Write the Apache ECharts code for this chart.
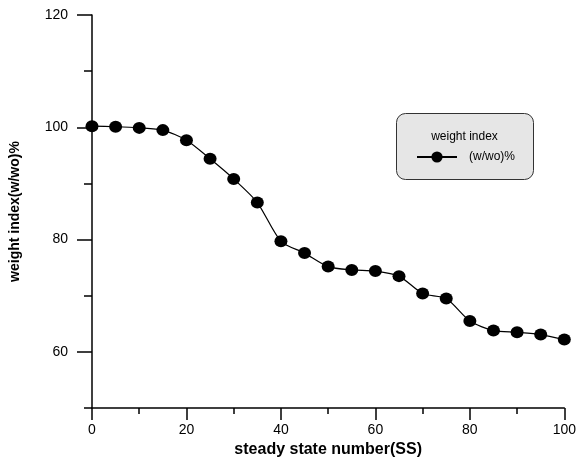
<!DOCTYPE html>
<html>
<head>
<meta charset="utf-8">
<script src="https://cdn.jsdelivr.net/npm/echarts@6/dist/echarts.min.js"></script>
<style>
html,body{margin:0;padding:0;background:#fff;}
#chart{width:579px;height:463px;}
</style>
</head>
<body>
<div id="chart"></div>
<script>
// Data
const ssNumbers = [0, 5, 10, 15, 20, 25, 30, 35, 40, 45, 50, 55, 60, 65, 70, 75, 80, 85, 90, 95, 100];
const weightIndex = [100.2, 100.1, 99.9, 99.5, 97.7, 94.4, 90.8, 86.6, 79.7, 77.6, 75.2, 74.6, 74.4, 73.5, 70.4, 69.5, 65.5, 63.8, 63.5, 63.1, 62.2];
const yMajorTicks = [60, 80, 100, 120];
const yMinorTicks = [50, 70, 90, 110];
const seriesName = '(w/wo)%';
const legendTitle = 'weight index';
const xTitle = 'steady state number(SS)';
const yTitle = 'weight index(w/wo)%';

const chart = echarts.init(document.getElementById('chart'), null, {renderer: 'canvas'});
const font = 'Liberation Sans, Arial, sans-serif';
const axisLineStyle = {color: '#000', width: 1.5};

chart.setOption({
  animation: false,
  backgroundColor: '#fff',
  grid: {left: 92, right: 12, top: 15, bottom: 53, containLabel: false},
  xAxis: {
    type: 'value', min: 0, max: 100, interval: 20,
    name: xTitle, nameLocation: 'middle', nameGap: 29,
    nameTextStyle: {fontFamily: font, fontWeight: 'bold', fontSize: 16, color: '#000'},
    axisLine: {show: true, onZero: false, lineStyle: axisLineStyle},
    axisTick: {show: true, inside: false, length: 12, lineStyle: axisLineStyle},
    minorTick: {show: true, splitNumber: 2, length: 6, lineStyle: axisLineStyle},
    axisLabel: {fontFamily: font, fontSize: 14, color: '#000', margin: 15},
    splitLine: {show: false}, minorSplitLine: {show: false}
  },
  yAxis: [{
    type: 'value', min: 50, max: 120,
    name: yTitle, nameLocation: 'middle', nameGap: 70,
    nameTextStyle: {fontFamily: font, fontWeight: 'bold', fontSize: 14, color: '#000'},
    axisLine: {show: true, onZero: false, lineStyle: axisLineStyle},
    axisTick: {show: true, inside: false, length: 15, customValues: yMajorTicks, lineStyle: axisLineStyle},
    axisLabel: {fontFamily: font, fontSize: 14, color: '#000', margin: 24, customValues: yMajorTicks},
    splitLine: {show: false}
  }, {
    type: 'value', min: 50, max: 120, position: 'left',
    axisLine: {show: false},
    axisTick: {show: true, inside: false, length: 8, customValues: yMinorTicks, lineStyle: axisLineStyle},
    axisLabel: {show: false},
    splitLine: {show: false}
  }],
  graphic: [{
    type: 'group', left: 396, top: 113, z: 1,
    children: [{
      type: 'rect', shape: {x: 0, y: 0, width: 137, height: 66, r: 9},
      style: {fill: '#e6e6e6', stroke: '#333', lineWidth: 1}
    }, {
      type: 'text', style: {x: 68, y: 23, text: legendTitle, fill: '#000', font: '12px Liberation Sans, Arial, sans-serif', align: 'center', verticalAlign: 'middle'}
    }]
  }],
  legend: {
    show: true, left: 416, top: 151, padding: 0, z: 10,
    itemWidth: 40, itemHeight: 14,
    textStyle: {fontFamily: font, fontSize: 12, color: '#000', padding: [0, 0, 0, 7]},
    data: [seriesName]
  },
  series: [{
    name: seriesName, type: 'line',
    data: ssNumbers.map((x, i) => [x, weightIndex[i]]),
    smooth: 0.25,
    symbol: 'circle', symbolSize: [13, 12],
    lineStyle: {color: '#000', width: 1.2},
    itemStyle: {color: '#000'},
    z: 5
  }]
});
</script>
</body>
</html>
